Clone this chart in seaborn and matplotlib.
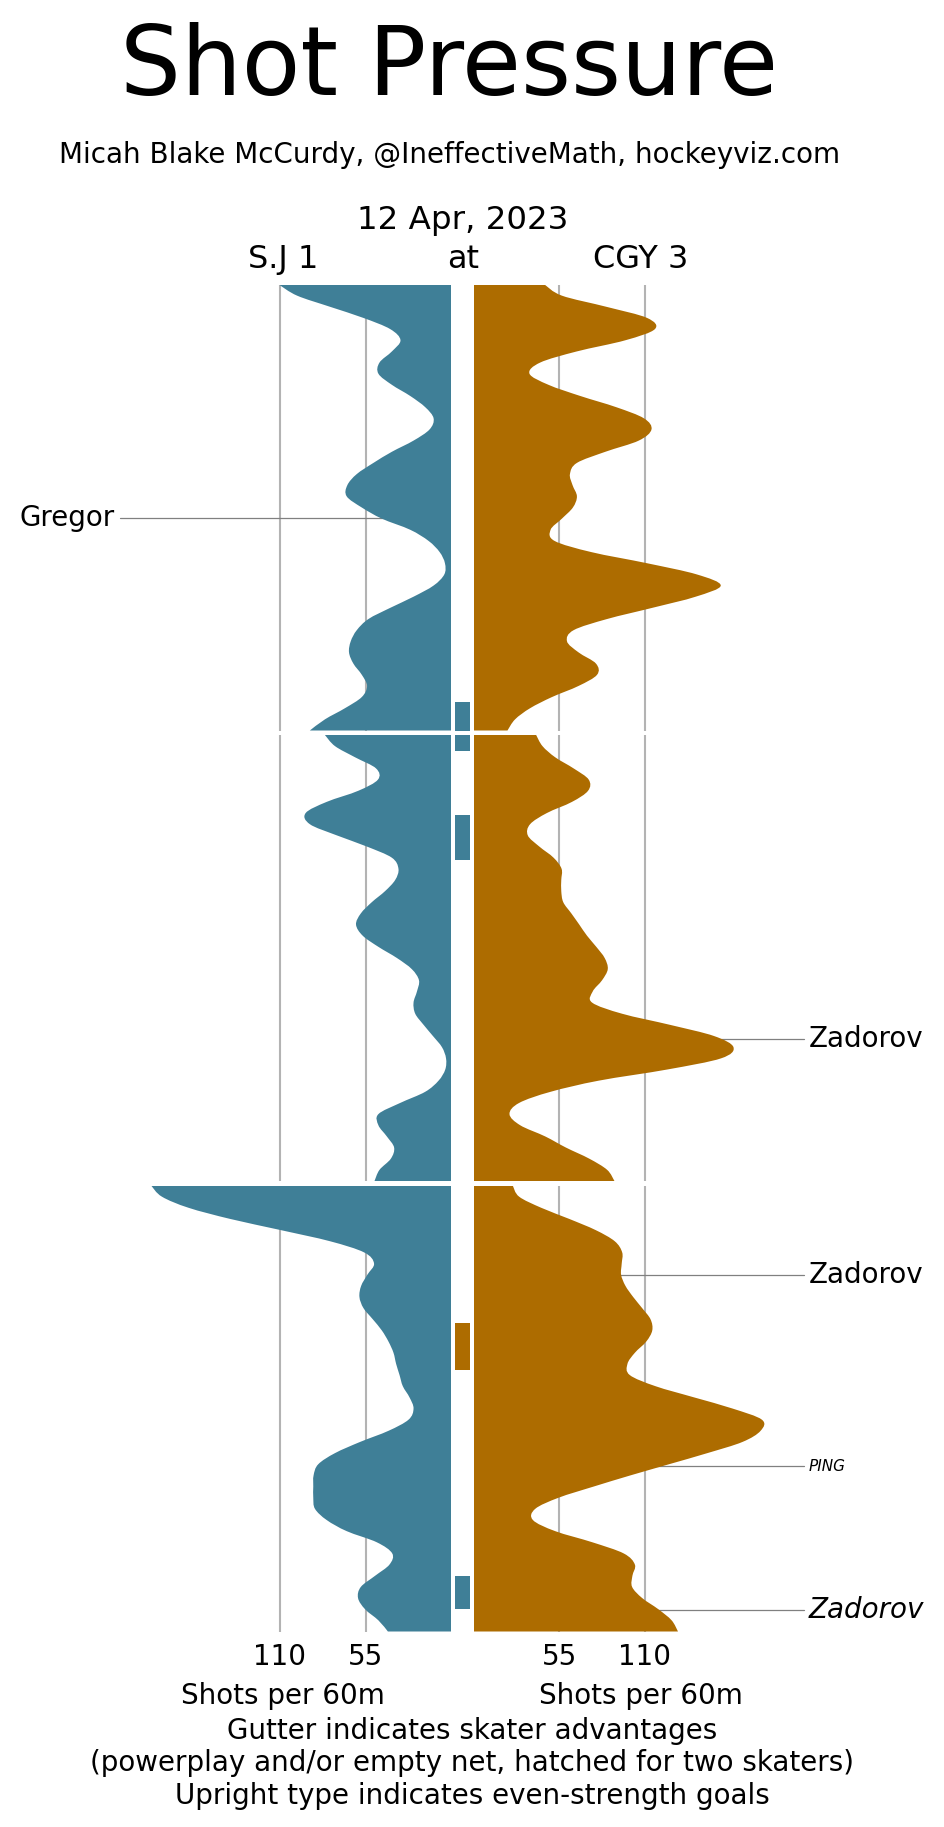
import numpy as np
import pandas as pd
import matplotlib
matplotlib.use('Agg')
import matplotlib.pyplot as plt
from matplotlib.path import Path
from matplotlib.patches import PathPatch
import seaborn as sns

sns.set_theme(style='white')
plt.rcParams['font.family'] = ['DejaVu Sans']
plt.rcParams['text.color'] = 'black'
plt.rcParams['xtick.color'] = 'black'

# shot pressure (shots per 60), read every 30 seconds of each period
minutes = np.arange(0, 20.5, 0.5)

sj_p1 = [110.8, 99, 77.8, 56.3, 39.1, 32.5, 38, 46, 46.7, 38, 26.2, 16.6, 11.2, 13.8,
         24.1, 38, 49.9, 60.6, 66.7, 67.1, 57.4, 44.5, 26.2, 14.4, 7.3, 3.9, 4.3, 11.2,
         24.1, 39.1, 53.1, 60.6, 64.5, 65.6, 62.8, 57.4, 54, 57.4, 68.2, 81.1, 90.8]
sj_p2 = [81.1, 74.6, 61.7, 48.2, 47, 59.6, 80, 93.5, 90.8, 73.5, 54.2, 38.1, 33.8, 35.9,
         42.4, 51, 58, 61.1, 56.8, 46.7, 34.8, 25.2, 20.6, 21.9, 24.1, 23, 17.6, 11.6,
         5.8, 3.2, 3.7, 8, 16.6, 32.7, 46.7, 46.7, 41.3, 36.6, 38.7, 46, 49.2]
sj_p3 = [192.9, 186, 168.8, 142, 109.5, 77.8, 55.9, 49.5, 53.8, 57.8, 58.9, 56.3, 50.3,
         44.5, 40.2, 37, 35.3, 33.1, 31, 26.7, 24.1, 27.3, 40.2, 58.5, 74.6, 85.4, 88.4,
         88.6, 88.6, 87.5, 80, 67.1, 47.7, 37.8, 39.6, 48.8, 58, 59.8, 55.3, 46.7, 40.6]
cgy_p1 = [45.5, 56.7, 85.4, 111.7, 116.7, 97.7, 66.4, 42.7, 35.8, 48.1, 68.6, 91.7, 109.6,
          114.5, 106.3, 84.8, 66.4, 61.9, 63.6, 66.4, 63.8, 56.7, 49.4, 52, 75.7, 111.7,
          143.7, 159.2, 143, 115, 85.9, 64.3, 60, 67.5, 78.7, 79.4, 67.5, 50.3, 36.2, 26.5, 21.6]
cgy_p2 = [40.1, 44.2, 52.4, 64.3, 74, 73.6, 63.2, 47, 36.2, 34.7, 42.1, 51.3, 56.5, 56.3,
          56.3, 57.6, 62.8, 67.9, 72.9, 78.9, 84.3, 86.3, 82.6, 76.6, 76.2, 95.6, 126.6,
          154.9, 167.4, 159.4, 124.7, 80.5, 49.4, 29.1, 22.9, 29.8, 45.9, 59.3, 74.4, 85.9, 90.6]
cgy_p3 = [25, 29.1, 43.4, 61.5, 78.5, 90.8, 95.6, 95.3, 94.9, 97.7, 102.7, 108.5, 113.9,
          115, 111.1, 103.8, 99, 100.5, 117.1, 141.9, 166.7, 185.7, 184.9, 173.2, 150.6,
          125.8, 100.9, 77.2, 54.6, 39.5, 38, 52.4, 76.4, 96.6, 103.8, 102.2, 102, 108.5,
          118.9, 127.5, 131.6]

# skater advantages (game minutes)
pp_team = ['SJ', 'SJ', 'CGY', 'SJ']
pp_start = [18.73, 23.59, 46.15, 57.49]
pp_end = [20.70, 25.61, 48.28, 59.01]

# goals / labels
goal_team = ['SJ', 'CGY', 'CGY', 'CGY', 'CGY']
goal_period = [1, 2, 3, 3, 3]
goal_minute = [10.45, 13.62, 4.01, 12.59, 19.03]
goal_label = ['Gregor', 'Zadorov', 'Zadorov', 'PING', 'Zadorov']
goal_style = ['normal', 'normal', 'normal', 'italic', 'italic']
goal_size = [20, 20, 20, 11, 20]

team_colors = {'SJ': '#3f7f97', 'CGY': '#ad6c00'}

rows = []
for team, arrs in [('SJ', [sj_p1, sj_p2, sj_p3]), ('CGY', [cgy_p1, cgy_p2, cgy_p3])]:
    for p, vals in enumerate(arrs, start=1):
        for m, v in zip(minutes, vals):
            rows.append({'team': team, 'period': p, 'minute': m, 'rate': v})
df = pd.DataFrame(rows)


def pressure_patch(rate, minute, color):
    # smooth (catmull-rom) outline through the read points, filled to zero
    pts = np.column_stack([rate, minute])
    ext = np.vstack([pts[0], pts, pts[-1]])
    verts = [(0, minute[0]), tuple(pts[0])]
    codes = [Path.MOVETO, Path.LINETO]
    for i in range(len(pts) - 1):
        p0, p1, p2, p3 = ext[i], ext[i + 1], ext[i + 2], ext[i + 3]
        verts += [tuple(p1 + (p2 - p0) / 6), tuple(p2 - (p3 - p1) / 6), tuple(p2)]
        codes += [Path.CURVE4] * 3
    verts += [(0, minute[-1]), (0, minute[0])]
    codes += [Path.LINETO, Path.CLOSEPOLY]
    return PathPatch(Path(verts, codes), facecolor=color, edgecolor='none', zorder=3)


W, H = 944, 1827
fig = plt.figure(figsize=(W / 100, H / 100), dpi=100)


def box(x0, y0, w, h):
    return [x0 / W, 1 - (y0 + h) / H, w / W, h / H]


period_top = [284.5, 735, 1185.5]
period_h = 446
left_x0, left_w = 109, 342
gut_x0, gut_w = 451, 23
right_x0, right_w = 474, 341
grid_c = '#b3b3b3'

axes = {}
for i, top in enumerate(period_top):
    p = i + 1
    for side, x0, w in [('SJ', left_x0, left_w), ('CGY', right_x0, right_w)]:
        ax = fig.add_axes(box(x0, top, w, period_h))
        sub = df[(df.team == side) & (df.period == p)]
        ax.add_patch(pressure_patch(sub.rate.to_numpy(), sub.minute.to_numpy(),
                                    team_colors[side]))
        for g in [55, 110]:
            ax.axvline(g, color=grid_c, lw=1.5, zorder=1)
        ax.set_ylim(20, 0)
        ax.set_xlim((220, 0) if side == 'SJ' else (0, 220))
        ax.set(xlabel='', ylabel='')
        ax.set_yticks([])
        if p == 3:
            ax.set_xticks([110, 55] if side == 'SJ' else [55, 110])
            ax.tick_params(axis='x', labelsize=20, length=0, pad=8)
        else:
            ax.set_xticks([])
        sns.despine(ax=ax, left=True, bottom=True)
        ax.patch.set_alpha(0)
        axes[(side, p)] = ax

    gax = fig.add_axes(box(gut_x0, top, gut_w, period_h))
    gax.set_xlim(0, 1)
    gax.set_ylim(20 * p, 20 * i)
    for t, s0, s1 in zip(pp_team, pp_start, pp_end):
        gax.axhspan(s0, s1, xmin=0.17, xmax=0.83, color=team_colors[t], lw=0)
    gax.axis('off')

# goal labels
for team, p, m, lab, sty, sz in zip(goal_team, goal_period, goal_minute, goal_label,
                                    goal_style, goal_size):
    ax = axes[(team, p)]
    ax.plot([8, 213], [m, m], color='#808080', lw=0.9, zorder=2, clip_on=False)
    ax.text(216, m, lab, ha='right' if team == 'SJ' else 'left', va='center',
            fontsize=sz, style=sty, clip_on=False)


def ftext(x, y, s, size, **kw):
    fig.text(x / W, 1 - y / H, s, fontsize=size, ha='center', va='baseline', **kw)


ftext(449, 95, 'Shot Pressure', 69)
ftext(450, 163, 'Micah Blake McCurdy, @IneffectiveMath, hockeyviz.com', 20)
ftext(463, 229, '12 Apr, 2023', 23.4)
ftext(283, 268, 'S.J 1', 23)
ftext(463, 268, 'at', 23)
ftext(641, 268, 'CGY 3', 23)
ftext(283, 1704, 'Shots per 60m', 20)
ftext(641, 1704, 'Shots per 60m', 20)
ftext(472, 1739, 'Gutter indicates skater advantages', 20)
ftext(472, 1771, '(powerplay and/or empty net, hatched for two skaters)', 20)
ftext(472, 1804, 'Upright type indicates even-strength goals', 20)

fig.savefig('out.png', dpi=100, facecolor='white')
